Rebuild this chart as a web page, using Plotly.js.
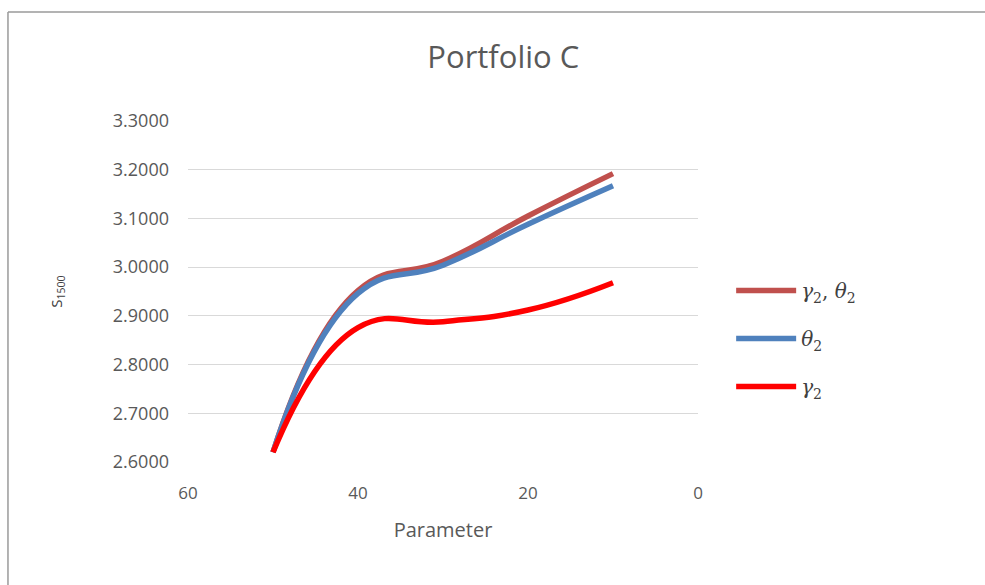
<!DOCTYPE html>
<html>
<head>
<meta charset="utf-8">
<script src="https://cdn.plot.ly/plotly-3.0.1.min.js"></script>
<style>
html,body{margin:0;padding:0;background:#fff;}
#chart{width:985px;height:585px;}
</style>
</head>
<body>
<div id="chart"></div>
<script>
const parameter = [50, 40, 30, 20, 10];
const gammaTheta = [2.620, 2.952, 3.012, 3.105, 3.192];
const theta = [2.620, 2.946, 3.004, 3.088, 3.167];
const gamma = [2.620, 2.876, 2.888, 2.912, 2.968];
const yTicks = [2.6, 2.7, 2.8, 2.9, 3.0, 3.1, 3.2, 3.3];
const yTickLabels = yTicks.map(v => v.toFixed(4));
const xTicks = [60, 40, 20, 0];

const names = [
  '<i>γ</i><sub>2</sub>, <i>θ</i><sub>2</sub>',
  '<i>θ</i><sub>2</sub>',
  '<i>γ</i><sub>2</sub>'
];
const colors = ['#C0504D', '#4F81BD', '#FF0000'];
const series = [gammaTheta, theta, gamma];

const traces = series.map((ys, i) => ({
  x: parameter, y: ys, type: 'scatter', mode: 'lines',
  name: names[i], legendgroup: 'g' + i,
  line: {color: colors[i], width: 5.5, shape: 'spline', smoothing: 1.3}
}));

const layout = {
  width: 985, height: 585,
  margin: {l: 188, r: 287, t: 121, b: 123},
  paper_bgcolor: '#fff', plot_bgcolor: '#fff',
  showlegend: true,
  title: {text: 'Portfolio C', font: {family: 'Open Sans, sans-serif', size: 31, color: '#595959'}, x: 0.511, xanchor: 'center', y: 0.902, yanchor: 'middle'},
  xaxis: {
    range: [60, 0], tickvals: xTicks, ticktext: xTicks.map(String),
    showgrid: false, zeroline: false, showline: false, ticks: '',
    ticklabelstandoff: 19,
    tickfont: {family: 'Open Sans, sans-serif', size: 17, color: '#595959'},
    title: {text: 'Parameter', font: {family: 'Open Sans, sans-serif', size: 20, color: '#595959'}, standoff: 19}
  },
  yaxis: {
    range: [2.6, 3.3], tickvals: yTicks, ticktext: yTickLabels,
    showgrid: true, gridcolor: '#d9d9d9', gridwidth: 1, zeroline: false, showline: false, ticks: '',
    ticklabelstandoff: 18,
    tickfont: {family: 'Open Sans, sans-serif', size: 18, color: '#595959'},
    title: {text: 'S<sub>1500</sub>', font: {family: 'Open Sans, sans-serif', size: 15, color: '#404040'}, standoff: 46}
  },
  legend: {
    x: 1.065, y: 0.56, xanchor: 'left', yanchor: 'top',
    traceorder: 'grouped', tracegroupgap: 19, itemwidth: 60,
    font: {family: 'DejaVu Serif, serif', size: 20, color: '#404040'},
    bgcolor: 'rgba(0,0,0,0)'
  },
  shapes: [
    {type: 'line', xref: 'paper', yref: 'paper', x0: -0.353, x1: 1.6, y0: 1.3196, y1: 1.3196, line: {color: '#9a9a9a', width: 1.5}},
    {type: 'line', xref: 'paper', yref: 'paper', x0: -0.353, x1: -0.353, y0: 1.3196, y1: -0.4, line: {color: '#9a9a9a', width: 1.5}}
  ]
};

Plotly.newPlot('chart', traces, layout, {displayModeBar: false, staticPlot: true});
</script>
</body>
</html>
